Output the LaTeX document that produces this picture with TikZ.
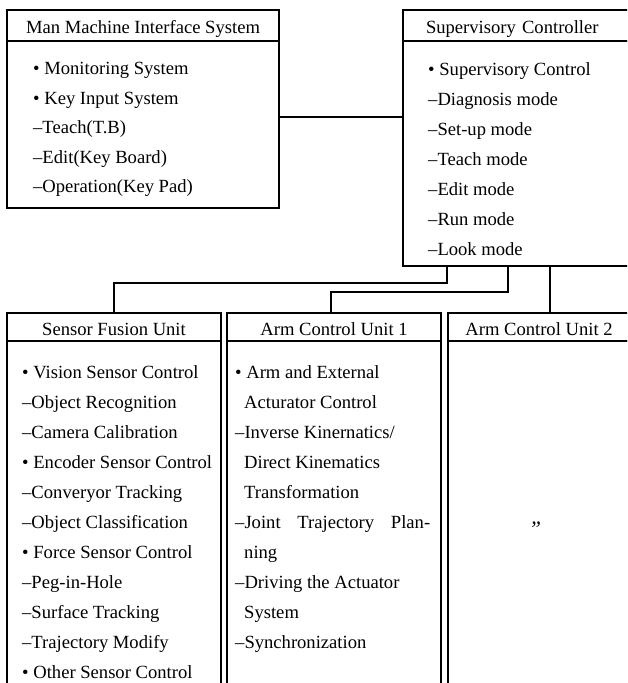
\documentclass[tikz,border=0pt]{standalone}
\usepackage{fontspec}
\setmainfont{Liberation Serif}
\usetikzlibrary{positioning}

\begin{document}
\begin{tikzpicture}[x=1pt,y=-1pt,
  every node/.style={font=\fontsize{18.6}{30}\selectfont},
  unit/.style={draw,line width=1.5pt,anchor=north west,inner sep=0pt,outer sep=0pt},
  head/.style={unit,text height=16pt,text depth=0pt},
  items/.style={anchor=north west,align=left,inner sep=0pt},
  link/.style={line width=1.5pt}]
 \useasboundingbox (0,0) rectangle (627,683);
 \clip (0,0) rectangle (627,683);

 % upper row
 \node[head,minimum width=272pt,minimum height=31pt] (mmi) at (7,10) {Man Machine Interface System};
 \node[unit,minimum width=272pt,minimum height=167pt,below=0pt of mmi] (mmibody) {};
 \node[items,font=\fontsize{18.6}{29.5}\selectfont] (mmitext) at ([xshift=26pt,yshift=-21pt]mmibody.north west)
   {\textbullet{} Monitoring System\\
    \textbullet{} Key Input System\\
    --Teach(T.B)\\
    --Edit(Key Board)\\
    --Operation(Key Pad)};

 \node[head,minimum width=232pt,minimum height=31pt,text width=186pt,inner xsep=23pt,align=left] (sup) at (403,10) {Supervisory Controller};
 \node[unit,minimum width=232pt,minimum height=225pt,below=0pt of sup] (supbody) {};
 \node[items] (suptext) at ([xshift=25pt,yshift=-21pt]supbody.north west)
   {\textbullet{} Supervisory Control\\
    --Diagnosis mode\\
    --Set-up mode\\
    --Teach mode\\
    --Edit mode\\
    --Run mode\\
    --Look mode};

 % lower row
 \node[head,minimum width=214pt,minimum height=28pt] (sensor) at (7,313) {Sensor Fusion Unit};
 \node[unit,minimum width=214pt,minimum height=400pt,below=0pt of sensor] (sensorbody) {};
 \node[items] (sensortext) at ([xshift=15pt,yshift=-24pt]sensorbody.north west)
   {\textbullet{} Vision Sensor Control\\
    --Object Recognition\\
    --Camera Calibration\\
    \textbullet{} Encoder Sensor Control\\
    --Converyor Tracking\\
    --Object Classification\\
    \textbullet{} Force Sensor Control\\
    --Peg-in-Hole\\
    --Surface Tracking\\
    --Trajectory Modify\\
    \textbullet{} Other Sensor Control};

 \node[head,minimum width=214pt,minimum height=28pt] (arm1) at (227,313) {Arm Control Unit 1};
 \node[unit,minimum width=214pt,minimum height=400pt,below=0pt of arm1] (arm1body) {};
 \node[items] (arm1text) at ([xshift=8pt,yshift=-24pt]arm1body.north west)
   {\textbullet{} Arm and External\\
    \hspace*{9pt}Acturator Control\\
    --Inverse Kinernatics/\\
    \hspace*{9pt}Direct Kinematics\\
    \hspace*{9pt}Transformation\\
    \makebox[195pt][s]{--Joint Trajectory Plan-}\\
    \hspace*{9pt}ning\\
    --Driving the Actuator\\
    \hspace*{9pt}System\\
    --Synchronization};

 \node[head,minimum width=182pt,minimum height=28pt] (arm2) at (448,313) {Arm Control Unit 2};
 \node[unit,minimum width=182pt,minimum height=400pt,below=0pt of arm2] (arm2body) {};
 \node[font=\fontsize{22}{22}\selectfont\itshape,inner sep=0pt] (ditto) at (535,529) {''};

 % connections
 \draw[link] ([yshift=7.5pt]mmibody.east) -- ([yshift=7.5pt]mmibody.east -| supbody.west);
 \draw[link] ([xshift=44pt]supbody.south west) |- ([yshift=30pt]sensor.north) -- (sensor.north);
 \draw[link] ([xshift=105pt]supbody.south west) |- ([xshift=-3pt,yshift=21pt]arm1.north)
   -- ([xshift=-3pt]arm1.north);
 \draw[link] ([xshift=147pt]supbody.south west) -- ([xshift=147pt]supbody.south west |- arm2.north);
\end{tikzpicture}
\end{document}
